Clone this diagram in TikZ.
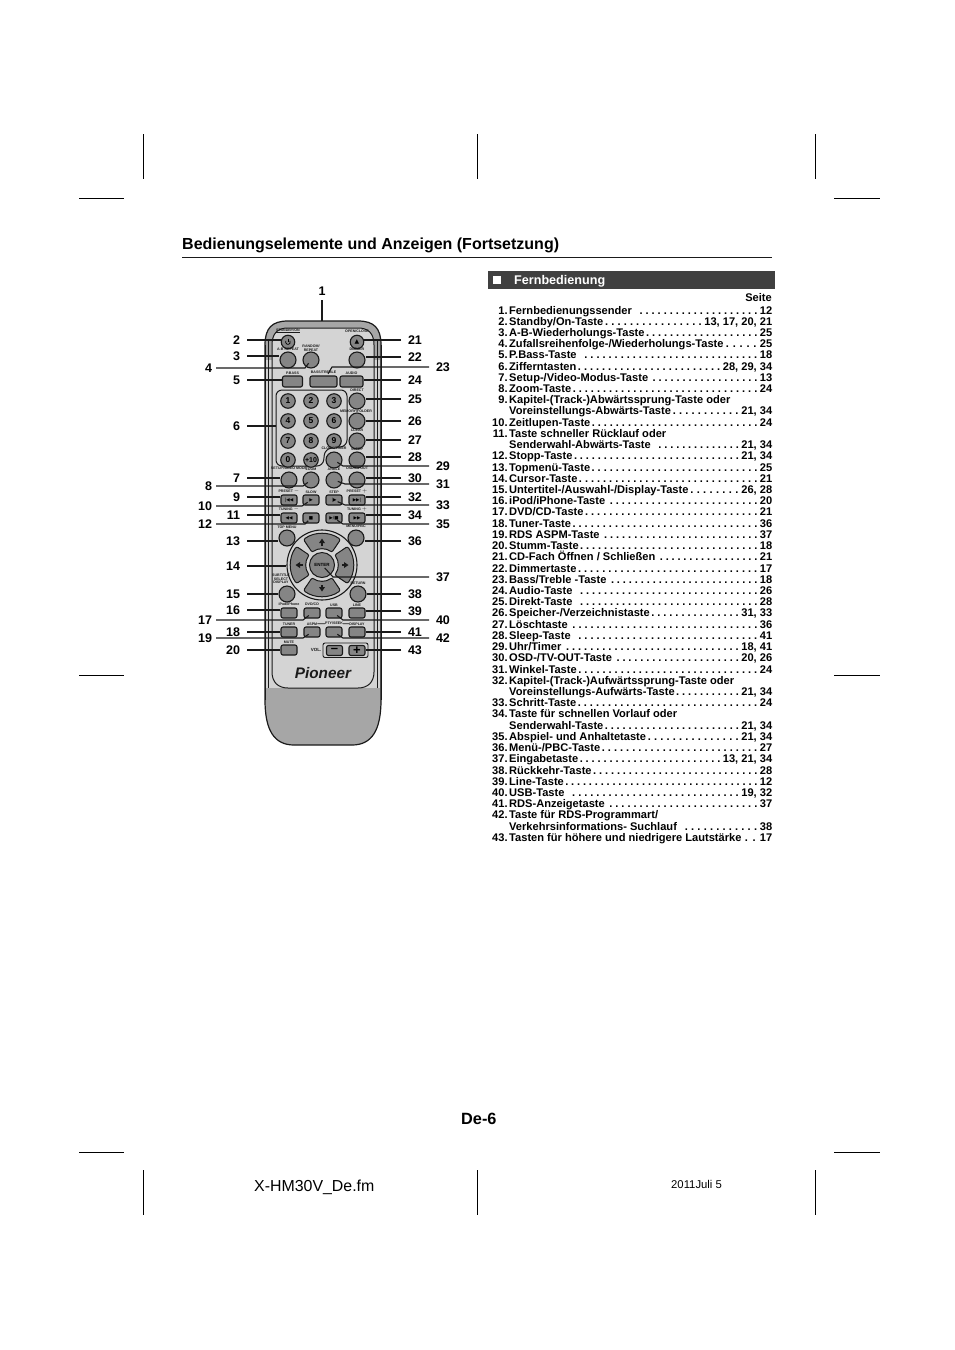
\documentclass[tikz,border=0pt]{standalone}
\usepackage{fontspec}
\setmainfont{Liberation Sans}
\newfontfamily\symfont{DejaVu Sans}
\usetikzlibrary{positioning}
\definecolor{btngray}{HTML}{858585}
\definecolor{facegray}{HTML}{D4D4D4}
\definecolor{bodygray}{HTML}{A6A6A6}
\definecolor{inkgray}{HTML}{1A1A1A}
\definecolor{bargray}{HTML}{404040}
\newcommand{\fs}[1]{\fontsize{#1}{#1}\selectfont}
\def\nopage{-}
\newcommand{\rowtext}[3]{\edef\pgtmp{#3}\hbox to 285pt{\hbox to 20.4pt{\hss #1}\kern1.6pt #2\ifx\pgtmp\nopage\hfill\else\xleaders\hbox to 5.9pt{\hss.\hss}\hfill\kern1pt #3\fi}}
\tikzset{
  crop/.style={line width=0.8pt,black},
  rbtn/.style={circle,draw=inkgray,fill=btngray,line width=1.1pt,minimum size=16pt,inner sep=0pt},
  nbtn/.style={rbtn,minimum size=14.5pt,font=\bfseries\fs{8.5}},
  sbtn/.style={rectangle,rounded corners=2pt,draw=inkgray,fill=btngray,line width=1.1pt,minimum width=16pt,minimum height=10pt,inner sep=0pt,font=\symfont\fs{4.5}},
  lead/.style={line width=1.1pt,inkgray},
  numl/.style={font=\bfseries\fs{12.5},inner sep=0pt,outer xsep=7pt,anchor=east},
  numr/.style={font=\bfseries\fs{12.5},inner sep=0pt,outer xsep=7pt,anchor=west},
  numfar/.style={numl,outer xsep=4pt},
  captxt/.style={font=\bfseries\fs{3.6},inner sep=0pt,align=center,text=inkgray},
  rowtxt/.style={font=\bfseries\fs{11.1},inner sep=0pt,anchor=base west}
}
\begin{document}
\begin{tikzpicture}[x=1pt,y=-1pt]
  \useasboundingbox[fill=white] (0,0) rectangle (954,1350);
  % crop marks
  \foreach \xc in {143.5,477.5,815.5}{
    \draw[crop] (\xc,134) -- (\xc,179);
    \draw[crop] (\xc,1170) -- (\xc,1215);
  }
  \foreach \yc in {198,675,1152}{
    \draw[crop] (79,\yc) -- (124,\yc);
    \draw[crop] (834,\yc) -- (880,\yc);
  }
  % page head
  \node[font=\bfseries\fs{16},inner sep=0pt,anchor=base west] (title) at (182,249) {Bedienungselemente und Anzeigen (Fortsetzung)};
  \draw[line width=0.8pt,inkgray] (182,257) -- (772,257);
  \fill[bargray] (488,271) rectangle (775,289);
  \fill[white] (493,276) rectangle (500.5,283.5);
  \node[font=\bfseries\fs{12.6},text=white,inner sep=0pt,anchor=base west] (bartxt) at (514,284.5) {Fernbedienung};

  % remote body
  \draw[line width=1.2pt,inkgray,fill=bodygray] (265,345) .. controls (265,328) and (272,321) .. (288,321)
    -- (358,321) .. controls (374,321) and (381,328) .. (381,345) -- (381,700)
    .. controls (381,730) and (372,745) .. (352,745) -- (294,745)
    .. controls (274,745) and (265,730) .. (265,700) -- cycle;
  \fill[facegray] (266,360) rectangle (380,688);
  \draw[line width=0.9pt,inkgray] (265,345) -- (265,700) (381,345) -- (381,700);
  \draw[line width=0.9pt,inkgray] (268.5,340) -- (268.5,688) (377.5,340) -- (377.5,688);
  \draw[line width=1pt,inkgray,fill=facegray] (272,345) .. controls (272,333) and (278,328) .. (288,328)
    -- (358,328) .. controls (368,328) and (374,333) .. (374,345) -- (374,672)
    .. controls (374,682) and (368,688) .. (358,688) -- (288,688)
    .. controls (278,688) and (272,682) .. (272,672) -- cycle;
  \draw[line width=1pt,inkgray,rounded corners=6pt] (276,390) -- (347,390) -- (347,446) -- (325,449) -- (323,466) -- (276,466) -- cycle;
  \coordinate (tip1) at (322,321);
  \coordinate (tip6) at (276,426);

  % top buttons
  \node[rbtn,minimum size=13.5pt] (b2) at (288,342) {};
  \node[rbtn,minimum size=13.5pt,font=\symfont\fs{6}] (b21) at (357,342) {▲};
  \draw[line width=0.7pt] (b2.center) ++(-2.1,-1.2) arc[start angle=210,end angle=-30,radius=2.4];
  \draw[line width=0.7pt] (288,338.7) -- (288,341.7);
  \node[rbtn] (b3) at (288,360) {};
  \node[rbtn] (b4) at (311,360) {};
  \node[rbtn] (b22) at (357,360) {};
  \node[sbtn,minimum width=20pt,minimum height=11pt] (b5) at (292.5,381.5) {};
  \node[sbtn,minimum width=27pt,minimum height=11pt] (b23) at (323.5,381.5) {};
  \node[sbtn,minimum width=23pt,minimum height=11pt] (b24) at (351.5,381.5) {};
  % number keys
  \foreach \nm/\txt/\xc/\yc in {n1/1/288/401,n2/2/311/401,n3/3/334/401,n4/4/288/421,n5/5/311/421,n6/6/334/421,n7/7/288/441,n8/8/311/441,n9/9/334/441,n0/0/288/460}{
    \node[nbtn] (\nm) at (\xc,\yc) {\txt};
  }
  \node[nbtn,font=\bfseries\fs{7}] (n10) at (311,460) {+10};
  % round keys
  \foreach \n/\xc/\yc in {25/357/401,26/357/421,27/357/441,28/357/460,29/334/460,7/289/480,8/311/480,31/334/480,30/357/480,13/287/538,36/356/538,15/287/594,38/358/594}{
    \node[rbtn] (b\n) at (\xc,\yc) {};
  }
  % flat keys
  \foreach \n/\sym/\xc/\yc in {9/{|◀◀}/289/500,10/▶/311/500,33/{|▶}/334/500,32/{▶▶|}/357/500,11/◀◀/289/518,12/■/311/518,35/{▶/■}/334/518,34/▶▶/357/518,16//289/613,17//312/613,40//334/613,39//357/613,18//289/632,19//312/632,42//334/632,41//357/632,20//289/650}{
    \node[sbtn] (b\n) at (\xc,\yc) {\sym};
  }
  % cursor ring
  \node[circle,draw=inkgray,fill=facegray,line width=1.1pt,minimum size=70pt,inner sep=0pt] (b14) at (322,565) {};
  \foreach \ang in {0,90,180,270}{
    \begin{scope}[shift={(322,565)},rotate=\ang]
      \draw[line width=1pt,inkgray,fill=btngray,rounded corners=2pt] (38:16) arc[start angle=38,end angle=-38,radius=16] -- (-36:31.5) arc[start angle=-36,end angle=36,radius=31.5] -- cycle;
      \fill[inkgray] (26.5,0) -- (22,-3) -- (22,3) -- cycle;
      \fill[inkgray] (19.5,-0.7) rectangle (23,0.7);
    \end{scope}
  }
  \node[circle,draw=inkgray,fill=btngray,line width=1pt,minimum size=25pt,inner sep=0pt,font=\bfseries\fs{4.5}] (b37) at (322,565) {ENTER};
  % volume keys
  \draw[line width=0.9pt,inkgray,rounded corners=2pt] (323,643) rectangle (368,657.5);
  \node[sbtn,font=\bfseries\fs{13}] (b43a) at (334.5,650.5) {–};
  \node[sbtn,font=\bfseries\fs{13}] (b43) at (357,650.5) {+};
  \node[captxt,font=\bfseries\fs{4.5}] (tvol) at (316,650) {VOL.};
  \node[font=\bfseries\itshape\fs{15.3},inner sep=0pt,text=inkgray] (logo) at (323,673.5) {Pioneer};

  % key captions
  \foreach \n/\cap in {3/A-B REPEAT,22/DIMMER,5/P.BASS,23/{BASS/TREBLE},24/AUDIO,25/DIRECT,27/CLEAR,28/SLEEP,29/{CLOCK/TIMER},7/{SETUP/VIDEO MODE},8/ZOOM,31/ANGLE,30/{OSD/TV OUT},9/PRESET $-$,10/SLOW,33/STEP,32/PRESET $+$,11/TUNING $-$,34/TUNING $+$,13/TOP MENU,36/{MENU/PBC},38/RETURN,16/{iPod/iPhone},17/{DVD/CD},40/USB,39/LINE,18/TUNER,19/ASPM,42/{PTY/SEEK},41/DISPLAY,20/MUTE}{
    \node[captxt,above=1.2pt of b\n] (t\n) {\cap};
  }
  \node[captxt,anchor=south] (t4) at (311,351.5) {RANDOM/\\REPEAT};
  \node[captxt] (t26) at (356,411.5) {MEMORY/FOLDER};
  \node[captxt] (t2) at (288,330.5) {STANDBY/ON};
  \node[captxt] (t21) at (357,331.5) {OPEN/CLOSE};
  \draw[line width=0.5pt,inkgray] (t2.south west) -- (t2.south east);
  \node[captxt] (t15) at (281,579) {SUBTITLE\\SELECT\\DISPLAY};
  \draw[line width=0.7pt,inkgray] (t19.east) -- (t42.west) (t42.east) -- (t41.west);

  % number labels
  \node[font=\bfseries\fs{12.5},inner sep=0pt,outer ysep=5pt] (l1) at (322,291) {1};
  \foreach \n/\yc in {2/340,3/356,5/380,6/426,7/478,9/497,11/515,13/541,14/566,15/594,16/610,18/632,20/650}{
    \node[numl] (l\n) at (247,\yc) {\n};
  }
  \foreach \n/\yc in {4/368,8/486,10/506,12/524,17/620,19/638}{
    \node[numfar] (l\n) at (216,\yc) {\n};
  }
  \foreach \n/\yc in {21/340,22/357,24/380,25/399,26/421,27/440,28/457,30/478,32/497,34/515,36/541,38/594,39/611,41/632,43/650}{
    \node[numr] (l\n) at (401,\yc) {\n};
  }
  \foreach \n/\yc in {23/367,29/466,31/484,33/505,35/524,37/577,40/620,42/638}{
    \node[numr] (l\n) at (429,\yc) {\n};
  }
  % connectors
  \draw[lead] (l1.south) -- (tip1);
  \draw[lead] (l6.east) -- (tip6 |- l6.east);
  \foreach \n in {2,3,5,7,9,11,13,14,15,16,18,20}{
    \draw[lead] (l\n.east) -- (l\n.east -| b\n.west);
  }
  \foreach \n in {21,22,24,25,26,27,28,30,32,34,36,38,39,41,43}{
    \draw[lead] (l\n.west) -- (l\n.west -| b\n.east);
  }
  \foreach \n/\ex in {4/305,8/303,10/302,12/305,17/303,19/303}{
    \draw[lead,shorten >=4pt] (l\n.east) -- (\ex,0 |- l\n.east) -- (b\n.center);
  }
  \foreach \n/\ex in {29/343,31/345,33/345,35/343,37/333,40/343,42/343}{
    \draw[lead,shorten >=4pt] (l\n.west) -- (\ex,0 |- l\n.west) -- (b\n.center);
  }
  \draw[lead,shorten >=9pt] (l23.west) -- (332,0 |- l23.west) -- (b23.center);

  % contents list
  \node[font=\bfseries\fs{11.1},inner sep=0pt,anchor=base east] (seite) at (772,301) {Seite};
  \foreach \nr/\txt/\pg [count=\i from 0] in {
    1./Fernbedienungssender~~/12,
    2./{Standby/On-Taste}/{13, 17, 20, 21},
    3./A-B-Wiederholungs-Taste/25,
    4./{Zufallsreihenfolge-/Wiederholungs-Taste}/25,
    5./P.Bass-Taste~~/18,
    6./Zifferntasten/{28, 29, 34},
    7./{Setup-/Video-Modus-Taste}~/13,
    8./Zoom-Taste/24,
    9./Kapitel-(Track-)Abwärtssprung-Taste oder/-,
    /Voreinstellungs-Abwärts-Taste/{21, 34},
    10./Zeitlupen-Taste/24,
    11./Taste schneller Rücklauf oder/-,
    /Senderwahl-Abwärts-Taste~~/{21, 34},
    12./Stopp-Taste/{21, 34},
    13./Topmenü-Taste/25,
    14./Cursor-Taste/21,
    15./{Untertitel-/Auswahl-/Display-Taste}/{26, 28},
    16./{iPod/iPhone-Taste}~/20,
    17./{DVD/CD-Taste}/21,
    18./Tuner-Taste/36,
    19./RDS ASPM-Taste~/37,
    20./Stumm-Taste/18,
    21./{CD-Fach Öffnen / Schließen}~/21,
    22./Dimmertaste/17,
    23./{Bass/Treble -Taste}~/18,
    24./Audio-Taste~~/26,
    25./Direkt-Taste~~/28,
    26./{Speicher-/Verzeichnistaste}/{31, 33},
    27./Löschtaste~/36,
    28./Sleep-Taste~~/41,
    29./{Uhr/Timer}~/{18, 41},
    30./{OSD-/TV-OUT-Taste}~/{20, 26},
    31./Winkel-Taste/24,
    32./Kapitel-(Track-)Aufwärtssprung-Taste oder/-,
    /Voreinstellungs-Aufwärts-Taste/{21, 34},
    33./Schritt-Taste/24,
    34./Taste für schnellen Vorlauf oder/-,
    /Senderwahl-Taste/{21, 34},
    35./Abspiel- und Anhaltetaste/{21, 34},
    36./{Menü-/PBC-Taste}/27,
    37./Eingabetaste/{13, 21, 34},
    38./Rückkehr-Taste/28,
    39./Line-Taste/12,
    40./USB-Taste~~/{19, 32},
    41./RDS-Anzeigetaste~/37,
    42./{Taste für RDS-Programmart/}/-,
    /Verkehrsinformations- Suchlauf~~/38,
    43./Tasten für höhere und niedrigere Lautstärke/17}{
    \pgfmathsetmacro{\yr}{314+\i*11.22}
    \node[rowtxt] (r\i) at (487,\yr) {\rowtext{\nr}{\txt}{\pg}};
  }

  % page foot
  \node[font=\bfseries\fs{16.3},inner sep=0pt,anchor=base west] (pageno) at (461,1124) {De-6};
  \node[font=\fs{15.9},inner sep=0pt,anchor=base west] (fname) at (254,1191) {X-HM30V\_De.fm};
  \node[font=\fs{11.3},inner sep=0pt,anchor=base west] (fdate) at (671,1188) {2011Juli 5};
\end{tikzpicture}
\end{document}
